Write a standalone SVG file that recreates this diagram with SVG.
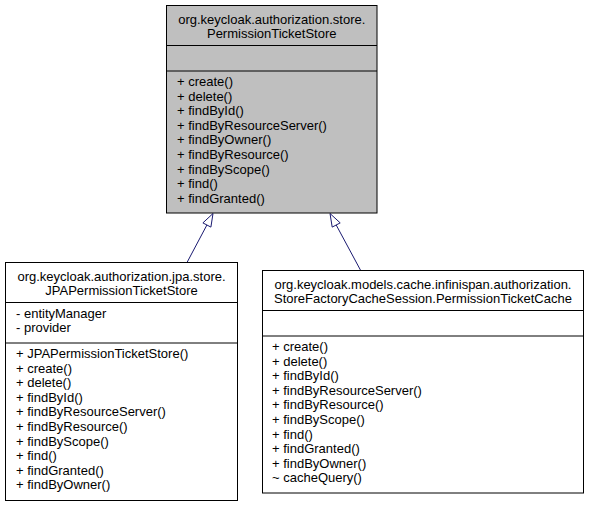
<svg xmlns="http://www.w3.org/2000/svg" width="589" height="507" viewBox="0 0 589 507">
<style>
text{font-family:"Liberation Sans",Arial,sans-serif;font-size:13px;fill:#000}
.h{text-anchor:middle}
.box{fill:#fff;stroke:#000;stroke-width:1}
.gray{fill:#bfbfbf;stroke:#000;stroke-width:1}
.div{stroke:#000;stroke-width:1}
.edge{stroke:#191970;stroke-width:1;fill:none}
.head{fill:#fff;stroke:#191970;stroke-width:1}
</style>
<rect width="589" height="507" fill="#fff"/>
<g id="connectors">
<line class="edge" x1="187" y1="262.5" x2="206.9" y2="225"/>
<polygon class="head" points="213,213.5 210.9,227.1 202.9,222.9"/>
<line class="edge" x1="360.7" y1="270.5" x2="336.2" y2="225"/>
<polygon class="head" points="330,213.5 340.2,222.9 332.2,227.1"/>
</g>
<g id="PermissionTicketStore">
<rect class="gray" x="166.5" y="5.5" width="210.5" height="207.5"/>
<line class="div" x1="166.5" y1="45.5" x2="377" y2="45.5"/>
<line class="div" x1="166.5" y1="71" x2="377" y2="71"/>
<text class="h" x="271.75" y="23.5">org.keycloak.authorization.store.</text>
<text class="h" x="271.75" y="38">PermissionTicketStore</text>
<text x="177" y="86">+ create()</text>
<text x="177" y="100.6">+ delete()</text>
<text x="177" y="115.2">+ findById()</text>
<text x="177" y="129.8">+ findByResourceServer()</text>
<text x="177" y="144.4">+ findByOwner()</text>
<text x="177" y="159">+ findByResource()</text>
<text x="177" y="173.6">+ findByScope()</text>
<text x="177" y="188.2">+ find()</text>
<text x="177" y="202.8">+ findGranted()</text>
</g>
<g id="JPAPermissionTicketStore">
<rect class="box" x="5.5" y="262.5" width="232" height="238"/>
<line class="div" x1="5.5" y1="302.5" x2="237.5" y2="302.5"/>
<line class="div" x1="5.5" y1="343" x2="237.5" y2="343"/>
<text class="h" x="121.5" y="280.5">org.keycloak.authorization.jpa.store.</text>
<text class="h" x="121.5" y="295">JPAPermissionTicketStore</text>
<text x="16" y="317.5">- entityManager</text>
<text x="16" y="332.1">- provider</text>
<text x="16" y="358">+ JPAPermissionTicketStore()</text>
<text x="16" y="372.6">+ create()</text>
<text x="16" y="387.2">+ delete()</text>
<text x="16" y="401.8">+ findById()</text>
<text x="16" y="416.4">+ findByResourceServer()</text>
<text x="16" y="431">+ findByResource()</text>
<text x="16" y="445.6">+ findByScope()</text>
<text x="16" y="460.2">+ find()</text>
<text x="16" y="474.8">+ findGranted()</text>
<text x="16" y="489.4">+ findByOwner()</text>
</g>
<g id="PermissionTicketCache">
<rect class="box" x="262.5" y="270.5" width="321" height="222.5"/>
<line class="div" x1="262.5" y1="310.5" x2="583.5" y2="310.5"/>
<line class="div" x1="262.5" y1="336" x2="583.5" y2="336"/>
<text class="h" x="423" y="288.5">org.keycloak.models.cache.infinispan.authorization.</text>
<text class="h" x="423" y="303">StoreFactoryCacheSession.PermissionTicketCache</text>
<text x="272" y="351">+ create()</text>
<text x="272" y="365.6">+ delete()</text>
<text x="272" y="380.2">+ findById()</text>
<text x="272" y="394.8">+ findByResourceServer()</text>
<text x="272" y="409.4">+ findByResource()</text>
<text x="272" y="424">+ findByScope()</text>
<text x="272" y="438.6">+ find()</text>
<text x="272" y="453.2">+ findGranted()</text>
<text x="272" y="467.8">+ findByOwner()</text>
<text x="272" y="482.4">~ cacheQuery()</text>
</g>
</svg>
